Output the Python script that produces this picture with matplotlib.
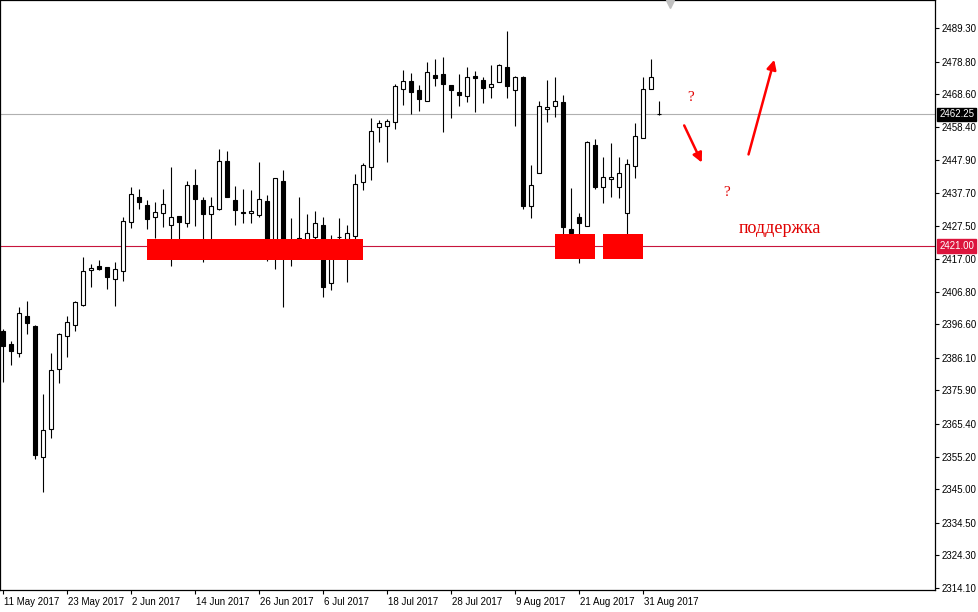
import matplotlib
matplotlib.use("Agg")
import matplotlib.pyplot as plt
import matplotlib.transforms as mtransforms
from matplotlib.patches import Rectangle

# дневные свечи US500, 11 May 2017 - 4 Sep 2017
opens = [2394.5, 2390.4, 2387.6, 2399.2, 2396.1, 2355.1, 2363.8, 2382.6, 2392.9, 2396.4,
         2402.6, 2413.6, 2414.8, 2414.5, 2410.8, 2413.3, 2428.6, 2436.4, 2433.9, 2430.2,
         2431.4, 2427.7, 2430.5, 2428.3, 2440.2, 2435.5, 2431.1, 2432.7, 2447.7, 2435.5,
         2431.6, 2431.5, 2430.8, 2435.2, 2417.7, 2441.5, 2421.2, 2423.6, 2422.1, 2423.9,
         2427.7, 2409.5, 2423.8, 2423.3, 2424.2, 2441.1, 2445.8, 2458.3, 2458.7, 2459.9,
         2470.2, 2472.7, 2469.9, 2466.5, 2474.6, 2474.9, 2471.5, 2469.3, 2468.0, 2474.3,
         2473.1, 2470.9, 2472.4, 2477.1, 2469.9, 2474.0, 2433.6, 2443.9, 2464.0, 2464.9,
         2466.2, 2426.4, 2430.2, 2427.4, 2452.7, 2439.6, 2442.2, 2439.6, 2431.4, 2446.1,
         2454.9, 2470.2, 2462.4]
highs = [2395.1, 2391.4, 2402.0, 2403.9, 2396.3, 2374.8, 2387.6, 2393.9, 2399.2, 2403.9,
         2417.7, 2415.5, 2416.7, 2414.6, 2416.1, 2430.2, 2439.6, 2438.9, 2435.5, 2434.9,
         2438.9, 2445.8, 2430.6, 2441.5, 2445.2, 2436.4, 2436.4, 2451.5, 2450.8, 2439.9,
         2438.9, 2438.6, 2447.4, 2437.1, 2442.5, 2444.9, 2429.9, 2436.4, 2431.1, 2432.1,
         2430.2, 2424.5, 2429.9, 2427.7, 2443.6, 2447.1, 2461.2, 2460.5, 2460.9, 2471.8,
         2476.2, 2475.2, 2471.5, 2478.7, 2479.6, 2480.3, 2471.6, 2474.9, 2477.1, 2475.9,
         2474.0, 2477.8, 2477.9, 2488.4, 2474.3, 2474.2, 2446.5, 2466.5, 2473.1, 2474.0,
         2468.3, 2439.3, 2431.4, 2454.0, 2454.6, 2449.0, 2453.3, 2449.0, 2448.3, 2459.6,
         2474.0, 2479.6, 2466.5]
lows = [2378.5, 2383.9, 2386.4, 2393.6, 2354.4, 2344.1, 2361.0, 2378.2, 2386.4, 2394.5,
        2402.3, 2408.3, 2413.6, 2407.6, 2402.3, 2410.1, 2426.7, 2432.7, 2426.4, 2423.6,
        2427.0, 2414.8, 2418.6, 2427.0, 2427.4, 2416.1, 2420.2, 2432.4, 2436.3, 2427.7,
        2428.3, 2428.3, 2430.2, 2416.4, 2413.9, 2402.0, 2414.8, 2421.4, 2420.5, 2418.6,
        2405.1, 2407.3, 2418.9, 2409.8, 2422.7, 2438.6, 2441.8, 2453.7, 2447.4, 2457.7,
        2465.2, 2462.4, 2463.4, 2466.4, 2471.2, 2456.8, 2461.2, 2464.9, 2466.2, 2463.0,
        2465.8, 2467.4, 2472.3, 2467.4, 2458.7, 2432.7, 2429.9, 2443.8, 2459.9, 2461.5,
        2423.9, 2419.2, 2415.8, 2427.3, 2438.9, 2434.6, 2436.4, 2436.1, 2420.8, 2442.4,
        2454.8, 2470.1, 2462.0]
closes = [2389.8, 2388.2, 2400.1, 2397.0, 2355.7, 2363.5, 2382.3, 2393.6, 2397.3, 2403.6,
          2413.3, 2414.2, 2413.9, 2411.4, 2413.9, 2428.9, 2437.4, 2434.9, 2429.6, 2431.7,
          2434.2, 2430.2, 2428.6, 2440.2, 2435.8, 2431.1, 2433.6, 2447.7, 2436.4, 2432.4,
          2431.3, 2432.0, 2435.8, 2417.4, 2442.4, 2421.1, 2421.6, 2423.0, 2425.2, 2428.3,
          2408.3, 2422.7, 2424.0, 2425.2, 2440.5, 2446.5, 2457.1, 2459.6, 2460.2, 2471.2,
          2472.7, 2469.3, 2467.1, 2475.6, 2473.7, 2471.8, 2469.9, 2468.3, 2474.0, 2473.7,
          2470.6, 2471.8, 2477.8, 2471.2, 2474.0, 2433.6, 2440.2, 2464.9, 2464.6, 2466.5,
          2427.0, 2425.2, 2428.3, 2453.7, 2439.6, 2442.7, 2442.6, 2443.9, 2446.8, 2455.5,
          2470.2, 2474.0, 2462.25]

date_labels = ["11 May 2017", "23 May 2017", "2 Jun 2017", "14 Jun 2017", "26 Jun 2017",
               "6 Jul 2017", "18 Jul 2017", "28 Jul 2017", "9 Aug 2017", "21 Aug 2017",
               "31 Aug 2017"]
date_label_bars = [0, 8, 16, 24, 32, 40, 48, 56, 64, 72, 80]

price_ticks = [2489.30, 2478.80, 2468.60, 2458.40, 2447.90, 2437.70, 2427.50, 2417.00,
               2406.80, 2396.60, 2386.10, 2375.90, 2365.40, 2355.20, 2345.00, 2334.50,
               2324.30, 2314.10]

bid_price = 2462.25
support_level = 2421.00

# зоны поддержки: (бар начала, бар конца, низ, верх)
zone_start = [18.0, 69.0, 75.0]
zone_end = [45.0, 74.0, 80.0]
zone_low = [2416.8, 2416.9, 2416.9]
zone_high = [2423.3, 2424.9, 2424.9]

AXIS_FONT = "Liberation Sans"


def draw_candles(ax):
    for i in range(len(opens)):
        o, h, l, c = opens[i], highs[i], lows[i], closes[i]
        ax.vlines(i, l, h, color="black", linewidth=0.8, zorder=2)
        bottom = min(o, c)
        height = max(abs(c - o), 0.05)
        face = "black" if c < o else "white"
        ax.bar(i, height, bottom=bottom, width=0.62, color=face,
               edgecolor="black", linewidth=0.8, zorder=3)


def main():
    fig = plt.figure(figsize=(9.79, 6.12), dpi=100)
    ax = fig.add_axes([0.0, 22 / 612, 935 / 979, 590 / 612])

    draw_candles(ax)

    # прямоугольники поддержки
    for s, e, lo, hi in zip(zone_start, zone_end, zone_low, zone_high):
        ax.add_patch(Rectangle((s, lo), e - s, hi - lo, facecolor="#ff0000",
                               edgecolor="none", zorder=4))

    ax.axhline(bid_price, color="#b0b0b0", linewidth=0.8, zorder=1)
    ax.axhline(support_level, color="#c8143c", linewidth=0.8, zorder=1)

    ax.set_xlim(-0.375, 116.5)
    ax.set_ylim(2313.45, 2498.06)

    ax.yaxis.tick_right()
    ax.set_yticks(price_ticks)
    ax.set_yticklabels(["%.2f" % p for p in price_ticks], family=AXIS_FONT)
    ax.set_xticks(date_label_bars)
    ax.set_xticklabels(date_labels, ha="left", family=AXIS_FONT)
    ax.tick_params(axis="y", direction="out", length=3, width=0.8, pad=2,
                   labelsize=7, colors="black")
    ax.tick_params(axis="x", direction="out", length=3, width=0.8, pad=2,
                   labelsize=7)
    offset = mtransforms.ScaledTranslation(1 / 100, 0, fig.dpi_scale_trans)
    for lbl in ax.get_xticklabels():
        lbl.set_transform(lbl.get_transform() + offset)

    for sp in ax.spines.values():
        sp.set_linewidth(0.9)
        sp.set_color("black")

    # метки цены справа
    ax.annotate("%.2f" % bid_price, xy=(1.0, bid_price),
                xycoords=("axes fraction", "data"), xytext=(3, 0),
                textcoords="offset points", va="center", ha="left",
                fontsize=7, color="white", family=AXIS_FONT,
                bbox=dict(boxstyle="square,pad=0.2", fc="black", ec="black"))
    ax.annotate("%.2f" % support_level, xy=(1.0, support_level),
                xycoords=("axes fraction", "data"), xytext=(3, 0),
                textcoords="offset points", va="center", ha="left",
                fontsize=7, color="white", family=AXIS_FONT,
                bbox=dict(boxstyle="square,pad=0.2", fc="#dc143c", ec="#dc143c"))

    # стрелки и подписи
    ax.annotate("", xy=(87.5, 2446.4), xytext=(85.0, 2459.6),
                arrowprops=dict(arrowstyle="-|>", color="#ff0000", lw=1.8,
                                mutation_scale=14), zorder=5)
    ax.annotate("", xy=(96.5, 2480.2), xytext=(93.1, 2448.9),
                arrowprops=dict(arrowstyle="-|>", color="#ff0000", lw=1.8,
                                mutation_scale=14), zorder=5)
    ax.text(85.9, 2467.4, "?", color="#e00000", fontsize=11,
            family="Liberation Serif", ha="center", va="center")
    ax.text(90.5, 2437.7, "?", color="#e00000", fontsize=11,
            family="Liberation Serif", ha="center", va="center")
    ax.text(97.1, 2426.7, "поддержка", color="#e00000", fontsize=13,
            family="Liberation Serif", ha="center", va="center")

    # маркер сдвига графика
    ax.plot([83.4], [0.994], marker="v", markersize=6, color="#c0c0c0",
            transform=mtransforms.blended_transform_factory(ax.transData, ax.transAxes),
            clip_on=False, zorder=6)

    fig.savefig("out.png", dpi=100, facecolor="white")
    plt.close(fig)


if __name__ == "__main__":
    main()
